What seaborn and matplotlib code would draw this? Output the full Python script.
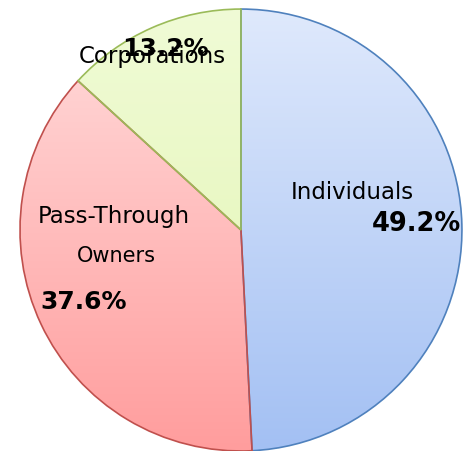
import numpy as np
import matplotlib
matplotlib.use("Agg")
import matplotlib.pyplot as plt
import seaborn as sns

# Data
labels = ["Individuals", "Pass-Through\nOwners", "Corporations"]
shares = [49.2, 37.6, 13.2]
pct_text = ["49.2%", "37.6%", "13.2%"]

# gradient colours (top, bottom) and edges per slice
top_colors = ["#dfe9fc", "#ffdcdc", "#f0fbd6"]
bottom_colors = ["#a3c0f3", "#ff9d9d", "#e2f5b0"]
edge_colors = ["#4f81bd", "#c0504d", "#9bbb59"]

sns.set_style("white")
plt.rcParams["font.family"] = ["DejaVu Sans"]

fig = plt.figure(figsize=(4.7, 4.51), dpi=100)
ax = fig.add_axes([0, 0, 1, 1])

wedges, _ = ax.pie(shares, startangle=90, counterclock=False, radius=1.0,
                   colors=["none"] * 3,
                   wedgeprops=dict(linewidth=1.2))
for w, ec in zip(wedges, edge_colors):
    w.set_edgecolor(ec)
    w.set_zorder(3)

# gradient fill clipped to each wedge
for w, c0, c1 in zip(wedges, top_colors, bottom_colors):
    rgb0 = np.array(matplotlib.colors.to_rgb(c0))
    rgb1 = np.array(matplotlib.colors.to_rgb(c1))
    t = np.linspace(0, 1, 256)[:, None]
    grad = (rgb0[None, :] * (1 - t) + rgb1[None, :] * t)[:, None, :]
    im = ax.imshow(grad, extent=(-1, 1, -1, 1), origin="upper", aspect="auto", zorder=2)
    im.set_clip_path(w)

ax.set_xlim(-1.09, 1.036)
ax.set_ylim(-1.0, 1.041)
ax.set_aspect("equal")
ax.axis("off")

# slice labels
lab = dict(ha="center", va="center", color="black", zorder=5)
ax.text(0.505, 0.172, "Individuals", fontsize=16.5, **lab)
ax.text(0.792, 0.027, pct_text[0], fontsize=18.5, fontweight="bold", **lab)
ax.text(-0.577, 0.059, "Pass-Through", fontsize=16.5, **lab)
ax.text(-0.564, -0.118, "Owners", fontsize=15, **lab)
ax.text(-0.71, -0.326, pct_text[1], fontsize=18, fontweight="bold", **lab)
ax.text(-0.344, 0.819, pct_text[2], fontsize=18, fontweight="bold", **lab)
ax.text(-0.403, 0.787, "Corporations", fontsize=16.5, **lab)

fig.savefig("out.png", dpi=100)
